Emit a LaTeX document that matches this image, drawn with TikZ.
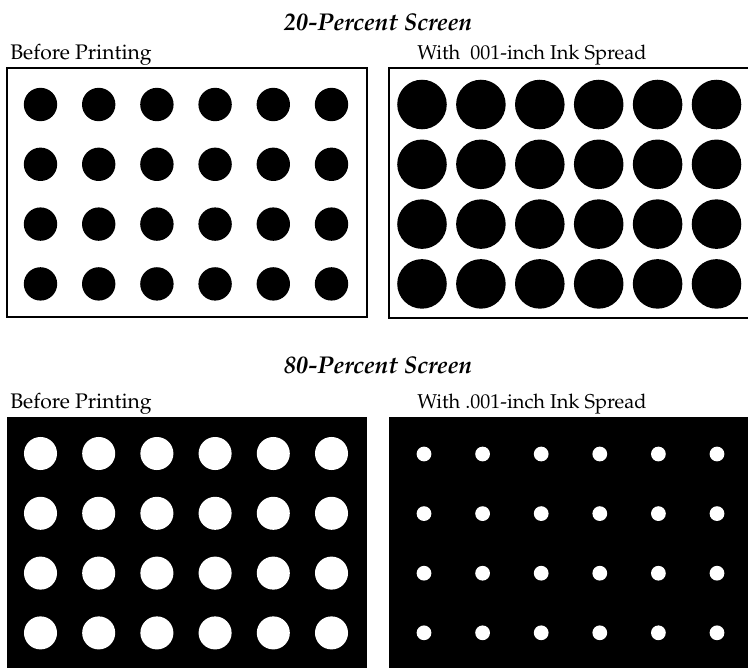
\documentclass[tikz,border=0pt]{standalone}
\usepackage[T1]{fontenc}
\usepackage{mathpazo}
\usetikzlibrary{positioning}

\begin{document}
\begin{tikzpicture}[
            x=0.02cm, y=-0.02cm,
            panellabel/.style={inner sep=0pt, anchor=base west, font=\fontsize{12}{14}\selectfont},
            spreadlabel/.style={panellabel, font=\fontsize{11.4}{14}\selectfont},
            screentitle/.style={inner sep=0pt, anchor=base, font=\fontsize{13.8}{16}\selectfont\bfseries\itshape},
            panel/.style={draw=black, line width=1.1pt, fill=white},
            inkpanel/.style={fill=black}
        ]
            \clip (0,0) rectangle (748,667);

            % 20-Percent Screen
            \node[screentitle] (titletop) at (378,30) {20-Percent Screen};
            \node[panellabel] (beforetop) at (10,59) {Before Printing};
            \node[spreadlabel] (spreadtop) at (417,59) {With\ \ 001-inch Ink Spread};
            \draw[panel] (7,68) rectangle (367,317);
            \draw[panel] (389,68) rectangle (760,318);
            \foreach \r in {0,...,3}
                \foreach \c in {0,...,5} {
                    \fill[black] (40.5+58.2*\c, 104.5+59.8*\r) circle (9.5pt);
                    \fill[black] (422+58.9*\c, 104.5+59.8*\r) circle (14.1pt);
                }

            % 80-Percent Screen
            \node[screentitle] (titlebot) at (378,373) {80-Percent Screen};
            \node[panellabel] (beforebot) at (10,408) {Before Printing};
            \node[spreadlabel] (spreadbot) at (417,408) {With .001-inch Ink Spread};
            \fill[inkpanel] (7,417) rectangle (367,680);
            \fill[inkpanel] (389,417) rectangle (760,680);
            \foreach \r in {0,...,3}
                \foreach \c in {0,...,5} {
                    \fill[white] (40.5+58.2*\c, 453.5+59.8*\r) circle (9.4pt);
                    \fill[white] (424+58.6*\c, 454+59.6*\r) circle (4.2pt);
                }
        \end{tikzpicture}
\end{document}
